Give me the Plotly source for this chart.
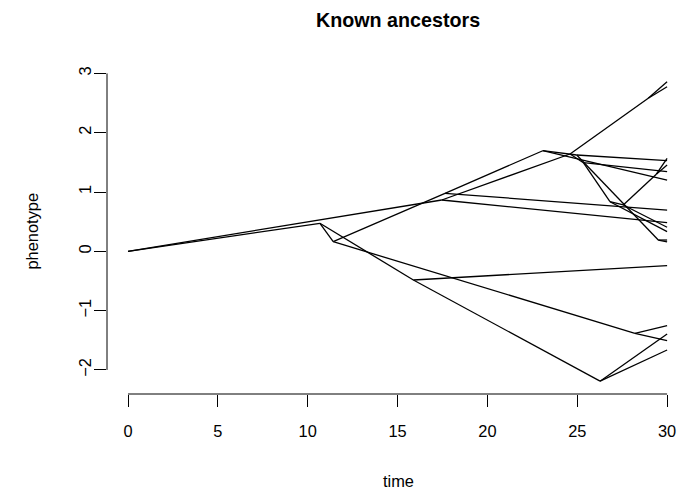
import plotly.graph_objects as go

# Node coordinates (time, phenotype); index 0 is the root
node_time = [0.0, 10.68, 17.46, 11.42, 15.88, 26.27, 28.21, 17.64, 23.08, 24.60,
             28.95, 25.34, 26.82, 27.56, 29.40, 24.97, 29.51,
             30, 30, 30, 30, 30, 30, 30, 30, 30, 30, 30, 30, 30, 30, 30, 30, 30, 30]
node_value = [0.0, 0.472, 0.865, 0.162, -0.484, -2.19, -1.383, 0.978, 1.696, 1.641,
              2.58, 1.494, 0.836, 0.781, 1.30, 1.624, 0.19,
              -0.24, -1.395, -1.664, -1.255, -1.508, 0.696, 0.482, 2.86, 2.776,
              1.342, 0.331, 0.405, 1.568, 1.455, 1.528, 0.19, 0.157, 1.202]
# Edges: parent -> child (indices into the node lists)
edge_parent = [0, 0, 1, 1, 2, 2, 3, 3, 4, 4, 5, 5, 6, 6, 7, 7, 8, 8,
               9, 9, 10, 10, 11, 11, 12, 12, 13, 13, 14, 14, 15, 15, 16, 16]
edge_child = [1, 2, 3, 4, 23, 9, 6, 7, 17, 5, 18, 19, 20, 21, 22, 8, 15, 34,
              10, 11, 24, 25, 26, 12, 13, 27, 14, 28, 29, 30, 31, 16, 32, 33]

x_ticks = [0, 5, 10, 15, 20, 25, 30]
y_ticks = [-2, -1, 0, 1, 2, 3]

xs, ys = [], []
for p, c in zip(edge_parent, edge_child):
    xs += [node_time[p], node_time[c], None]
    ys += [node_value[p], node_value[c], None]

fig = go.Figure()
fig.add_trace(go.Scatter(x=xs, y=ys, mode="lines",
                         line=dict(color="black", width=1.3),
                         hoverinfo="skip", showlegend=False))

W, H = 681, 498
L, R, T, B = 107, 0, 69, 104
# pixel mapping of R's plot: t=0 at 128 px, 17.97 px per unit; y=0 at 251.3 px, 59.3 px per unit
x_range = [(L - 128) / 17.97, (W - R - 128) / 17.97]
y_range = [(251.3 - (H - B)) / 59.3, (251.3 - T) / 59.3]

font = "Liberation Sans, Arial, sans-serif"
fs = 16.4
fig.update_layout(
    width=W, height=H,
    margin=dict(l=L, r=R, t=T, b=B, pad=0),
    plot_bgcolor="white", paper_bgcolor="white",
    font=dict(family=font, color="black", size=fs),
    xaxis=dict(range=x_range, showgrid=False, zeroline=False, showline=False,
               tickmode="array", tickvals=x_ticks, ticktext=[str(v) for v in x_ticks],
               ticks="outside", ticklen=12, tickwidth=1, tickcolor="black",
               ticklabelstandoff=10),
    yaxis=dict(range=y_range, showgrid=False, zeroline=False, showline=False,
               tickmode="array", tickvals=y_ticks,
               ticktext=[("\u2212" + str(-v)) if v < 0 else str(v) for v in y_ticks],
               ticks="outside", ticklen=12, tickwidth=1, tickcolor="black",
               tickangle=-90, ticklabelstandoff=-4),
    shapes=[
        dict(type="line", xref="x", yref="paper", x0=x_ticks[0], x1=x_ticks[-1], y0=0, y1=0,
             line=dict(color="black", width=1)),
        dict(type="line", xref="paper", yref="y", x0=0, x1=0, y0=y_ticks[0], y1=y_ticks[-1],
             line=dict(color="black", width=1)),
    ],
    annotations=[
        dict(text="<b>Known ancestors</b>", xref="paper", yref="paper",
             x=(398 - L) / (W - L - R), y=1 + (T - 20) / (H - T - B),
             xanchor="center", yanchor="middle", showarrow=False,
             font=dict(size=19.7, family=font)),
        dict(text="time", xref="paper", yref="paper",
             x=(398 - L) / (W - L - R), y=-(481 - (H - B)) / (H - T - B),
             xanchor="center", yanchor="middle", showarrow=False,
             font=dict(size=fs, family=font)),
        dict(text="phenotype", xref="paper", yref="paper",
             x=-(L - 31) / (W - L - R), y=0.5, textangle=-90,
             xanchor="center", yanchor="middle", showarrow=False,
             font=dict(size=fs, family=font)),
    ],
)

fig.write_html("out.html")
